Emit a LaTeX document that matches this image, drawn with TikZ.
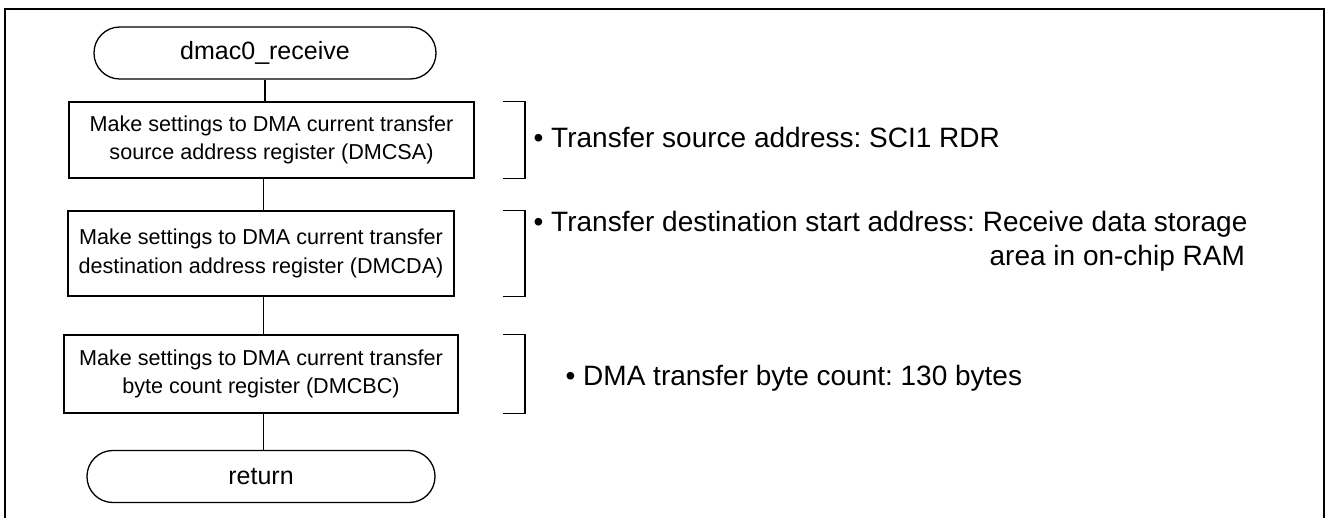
\documentclass[tikz,border=0pt]{standalone}
\usepackage{fontspec}
\setmainfont{Liberation Sans}
\frenchspacing
\begin{document}
\begin{tikzpicture}[x=0.5pt,y=-0.5pt,
  line width=0.65pt,
  term/.style={draw, rounded corners=12.9pt, minimum width=171pt, minimum height=26pt, inner sep=0pt, font=\fontsize{12.5}{15}\selectfont},
  proc/.style={draw, minimum width=#1, inner sep=0pt, align=center, font=\fontsize{10.8}{14.2}\selectfont},
  note/.style={anchor=base west, inner sep=0pt, font=\fontsize{14}{17}\selectfont},
  bracket/.style={line width=0.65pt}]
\useasboundingbox (0,0) rectangle (1326,518);
\draw[line width=1.15pt] (5,520) -- (5,9) -- (1324,9) -- (1324,520);

\node[term] (start) at (265,53) {dmac0\_receive};
\node[proc=202.5pt, minimum height=38pt] (b1) at (271.5,140) {Make settings to DMA current transfer\\source address register (DMCSA)};
\node[proc=193pt, minimum height=42.5pt] (b2) at (261,253.5) {Make settings to DMA current transfer\\destination address register (DMCDA)};
\node[proc=197pt, minimum height=39pt] (b3) at (261,374) {Make settings to DMA current transfer\\byte count register (DMCBC)};
\node[term, minimum width=174pt] (ret) at (261,476.5) {return};

\coordinate (cx) at (263.5,0);
\draw (start.south) -- (start.south |- b1.north);
\draw (cx |- b1.south) -- (cx |- b2.north);
\draw (cx |- b2.south) -- (cx |- b3.north);
\draw (cx |- b3.south) -- (cx |- ret.north);

\coordinate (brL) at (503,0);
\coordinate (brR) at (525,0);
\draw[bracket] (b1.north -| brL) -- (b1.north -| brR) -- (b1.south -| brR) -- (b1.south -| brL);
\draw[bracket] (b2.north -| brL) -- (b2.north -| brR) -- (b2.south -| brR) -- (b2.south -| brL);
\draw[bracket] (b3.north -| brL) -- (b3.north -| brR) -- (b3.south -| brR) -- (b3.south -| brL);

\node[note] (t1) at (533,148) {• Transfer source address: SCI1 RDR};
\node[note] (t2) at (533,232) {• Transfer destination start address: Receive data storage};
\node[note] (t2b) at (989,265) {area in on-chip RAM};
\node[note] (t3) at (565,385) {• DMA transfer byte count: 130 bytes};
\end{tikzpicture}
\end{document}
